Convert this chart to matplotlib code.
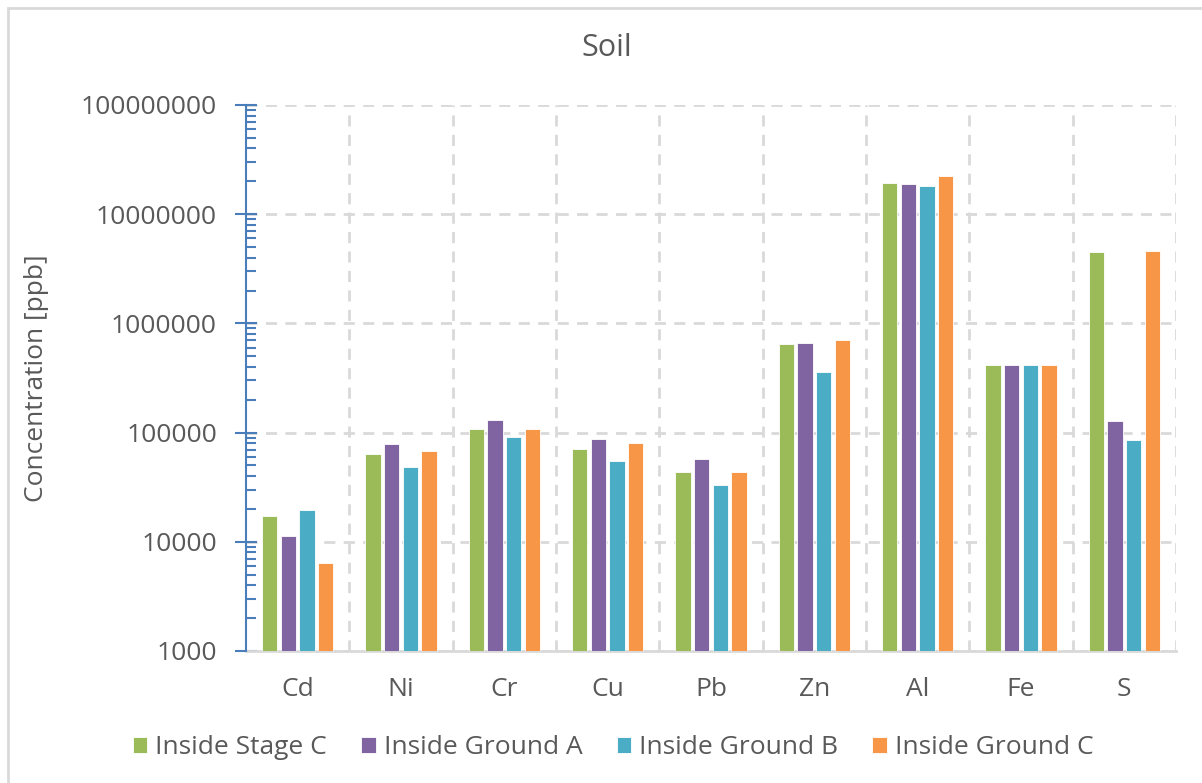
import numpy as np
import matplotlib
matplotlib.use("Agg")
import matplotlib.pyplot as plt
from matplotlib.ticker import LogLocator, FuncFormatter, FixedLocator, NullFormatter
from matplotlib.patches import Rectangle

plt.rcParams['font.family'] = ['Open Sans', 'DejaVu Sans']

elements = ['Cd', 'Ni', 'Cr', 'Cu', 'Pb', 'Zn', 'Al', 'Fe', 'S']
series_names = ['Inside Stage C', 'Inside Ground A', 'Inside Ground B', 'Inside Ground C']
stage_c  = [17300, 63300, 107000, 70300, 43300, 643000, 19200000, 413000, 4480000]
ground_a = [11300, 79200, 131000, 86900, 57300, 662000, 19000000, 413000, 127000]
ground_b = [19400, 48700, 90600, 55000, 33100, 361000, 18100000, 416000, 85000]
ground_c = [6400, 68300, 107000, 79800, 43300, 704000, 22400000, 413000, 4570000]
colors = ['#9BBB59', '#8064A2', '#4BACC6', '#F79646']

text_col = '#595959'
grid_col = '#D9D9D9'
axis_blue = '#4A7EBB'

fig = plt.figure(figsize=(12.02, 7.83), dpi=100)
ax = fig.add_axes([246/1202, 1-651/783, (1176-246)/1202, (651-105)/783])

x = np.arange(len(elements))
step = 0.181
bw = 0.15
for j, vals in enumerate([stage_c, ground_a, ground_b, ground_c]):
    ax.bar(x + (j - 1.5)*step, vals, bw, color=colors[j], edgecolor='white',
           linewidth=0.6, label=series_names[j], zorder=3)

ax.set_yscale('log')
ax.set_ylim(1e3, 1e8)
ax.set_xlim(-0.5, len(elements) - 0.5)

ax.yaxis.set_major_locator(LogLocator(base=10, numticks=10))
ax.yaxis.set_minor_locator(LogLocator(base=10, subs=np.arange(2, 10), numticks=20))
ax.yaxis.set_major_formatter(FuncFormatter(lambda v, p: '%d' % round(v)))
ax.yaxis.set_minor_formatter(NullFormatter())
ax.tick_params(axis='y', which='major', direction='inout', length=16, width=1.5,
               color=axis_blue, labelsize=19, labelcolor=text_col, pad=13)
ax.tick_params(axis='y', which='minor', direction='in', length=7, width=1.5, color=axis_blue)

ax.set_xticks(x)
ax.set_xticklabels(elements)
ax.xaxis.set_minor_locator(FixedLocator(np.arange(0.5, len(elements), 1.0)))
ax.tick_params(axis='x', which='both', length=0, labelsize=19, labelcolor=text_col, pad=19)

ax.grid(True, axis='y', which='major', color=grid_col, linestyle=(0, (4, 3)), linewidth=2, zorder=0)
ax.grid(True, axis='x', which='minor', color=grid_col, linestyle=(0, (4, 3)), linewidth=2, zorder=0)
ax.set_axisbelow(True)

for s in ['top', 'right']:
    ax.spines[s].set_visible(False)
ax.spines['left'].set_color(axis_blue)
ax.spines['left'].set_linewidth(1.5)
ax.spines['left'].set_zorder(4)
ax.spines['bottom'].set_color(grid_col)
ax.spines['bottom'].set_linewidth(2)

ax.set_ylabel('Concentration [ppb]', fontsize=19, color=text_col)
ax.yaxis.set_label_coords(-0.212, 0.5)
fig.text(607/1202, 1-48/783, 'Soil', fontsize=22, color=text_col, ha='center', va='center')

fig.legend(loc='center', bbox_to_anchor=(613/1202, 1-748/783), ncol=4, frameon=False,
           fontsize=19, labelcolor=text_col, handlelength=0.55, handleheight=0.55,
           handletextpad=0.3, columnspacing=1.3)

fig.patches.append(Rectangle((8/1202, -0.05), 1.1, 1-8/783+0.05, transform=fig.transFigure,
                             fill=False, edgecolor=grid_col, linewidth=2))

fig.savefig('out.png', dpi=100, facecolor='white')
